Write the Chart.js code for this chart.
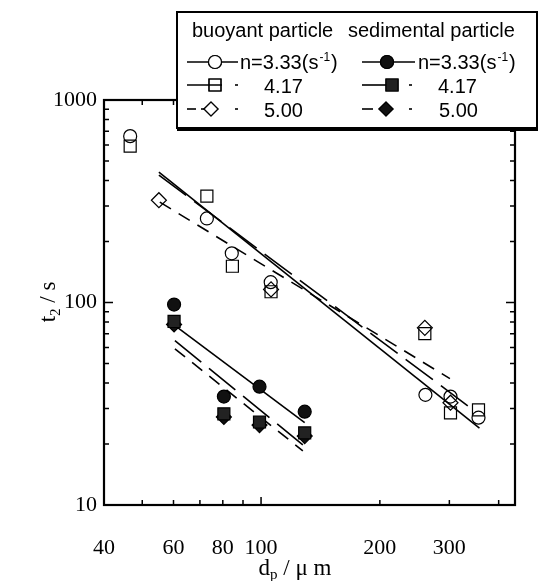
<!DOCTYPE html>
<html>
<head>
<meta charset="utf-8">
<script src="https://cdn.jsdelivr.net/npm/chart.js@4.4.0/dist/chart.umd.min.js"></script>
<style>
html, body { margin: 0; padding: 0; background: #fff; }
</style>
</head>
<body>
<canvas id="t2Chart" width="539" height="581"></canvas>
<script>
// buoyant particle (open symbols), d_p in um, t2 in s
const dBuoy333 = [46.6, 72.9, 84.3, 105.8, 260.9, 302, 355.6];
const tBuoy333 = [663, 260, 175, 126, 35.0, 34.3, 27.0];
const dBuoy417 = [46.6, 72.9, 84.6, 106, 260, 302, 355.6];
const tBuoy417 = [592, 335, 151, 113, 70.2, 28.5, 29.5];
const dBuoy500 = [55.1, 106, 260, 302];
const tBuoy500 = [320, 116, 75, 32];

// sedimental particle (filled symbols)
const dSed333 = [60.2, 80.5, 99.1, 129];
const tSed333 = [97.7, 34.3, 38.4, 28.9];
const dSed417 = [60.2, 80.5, 99.1, 129];
const tSed417 = [80.6, 28.2, 25.7, 22.7];
const dSed500 = [60.2, 80.5, 99.1, 129];
const tSed500 = [77.9, 27.2, 24.8, 21.9];

// fitted lines (end points)
const fitBuoy333x = [55.1, 357.6], fitBuoy333y = [440, 24.0];
const fitBuoy417x = [55.1, 334], fitBuoy417y = [426, 30.9];
const fitBuoy500x = [55.4, 301], fitBuoy500y = [313, 42.1];
const fitSed333x = [61.0, 129], fitSed333y = [76, 25.5];
const fitSed417x = [60.5, 127.6], fitSed417y = [64.9, 19.8];
const fitSed500x = [60.5, 127.6], fitSed500y = [59.1, 18.5];

// axis ticks
const xTicks = [40, 50, 60, 70, 80, 90, 100, 200, 300, 400];
const xLabels = [40, 60, 80, 100, 200, 300];
const yTicks = [10, 20, 30, 40, 50, 60, 70, 80, 90, 100, 200, 300, 400, 500, 600, 700, 800, 900, 1000];
const yLabels = [10, 100, 1000];

const toXY = (xs, ys) => xs.map((v, i) => ({ x: v, y: ys[i] }));

function pts(xs, ys, style, r, fill) {
    return {
        data: toXY(xs, ys),
        showLine: false,
        pointStyle: style,
        pointRadius: r,
        pointBackgroundColor: fill,
        pointBorderColor: '#000',
        pointBorderWidth: 1.2
    };
}
function fit(xs, ys, dash) {
    return {
        data: toXY(xs, ys),
        showLine: true,
        pointRadius: 0,
        borderColor: '#000',
        borderWidth: 1.6,
        borderDash: dash
    };
}

const dashLong = [34, 10];
const dashShort = [13, 9];

// frame with inward ticks on all four sides
const framePlugin = {
    id: 'frame',
    afterDatasetsDraw(chart) {
        const { ctx, chartArea: a, scales: { x, y } } = chart;
        ctx.save();
        ctx.strokeStyle = '#000';
        ctx.lineWidth = 1.5;
        ctx.beginPath();
        xTicks.forEach(v => {
            const px = x.getPixelForValue(v);
            const len = (v === 100) ? 8 : 5;
            ctx.moveTo(px, a.bottom); ctx.lineTo(px, a.bottom - len);
            ctx.moveTo(px, a.top); ctx.lineTo(px, a.top + len);
        });
        yTicks.forEach(v => {
            const py = y.getPixelForValue(v);
            const len = yLabels.includes(v) ? 9 : 5;
            ctx.moveTo(a.left, py); ctx.lineTo(a.left + len, py);
            ctx.moveTo(a.right, py); ctx.lineTo(a.right - len, py);
        });
        ctx.stroke();
        ctx.lineWidth = 2.2;
        ctx.strokeRect(a.left, a.top, a.right - a.left, a.bottom - a.top);

        // axis titles
        ctx.fillStyle = '#000';
        ctx.textBaseline = 'alphabetic';
        const big = '23px "Liberation Serif"', small = '15px "Liberation Serif"';
        // x title: d_p / um
        ctx.font = big; const wd = ctx.measureText('d').width;
        ctx.font = small; const wp = ctx.measureText('p').width;
        ctx.font = big; const wr = ctx.measureText(' / \u03bc m').width;
        let sx = 295 - (wd + wp + wr) / 2;
        const by = 575;
        ctx.font = big; ctx.fillText('d', sx, by); sx += wd;
        ctx.font = small; ctx.fillText('p', sx, by + 4); sx += wp;
        ctx.font = big; ctx.fillText(' / \u03bc m', sx, by);
        // y title: t_2 / s
        ctx.save();
        ctx.translate(55, 302);
        ctx.rotate(-Math.PI / 2);
        ctx.font = big; const wt = ctx.measureText('t').width;
        ctx.font = small; const w2 = ctx.measureText('2').width;
        ctx.font = big; const ws = ctx.measureText(' / s').width;
        let tx = -(wt + w2 + ws) / 2;
        ctx.font = big; ctx.fillText('t', tx, 0); tx += wt;
        ctx.font = small; ctx.fillText('2', tx, 5); tx += w2;
        ctx.font = big; ctx.fillText(' / s', tx, 0);
        ctx.restore();
        ctx.restore();
    }
};

function marker(ctx, style, x, y, r, fill) {
    ctx.save();
    ctx.fillStyle = fill;
    ctx.strokeStyle = '#000';
    ctx.lineWidth = 1.2;
    Chart.helpers.drawPoint(ctx, { pointStyle: style, radius: r, borderWidth: 1.2 }, x, y);
    ctx.fill();
    ctx.stroke();
    ctx.restore();
}
function seg(ctx, x1, x2, y) {
    ctx.beginPath(); ctx.moveTo(x1, y); ctx.lineTo(x2, y); ctx.stroke();
}

// boxed legend, top right
const legendPlugin = {
    id: 'boxLegend',
    afterDraw(chart) {
        const ctx = chart.ctx;
        ctx.save();
        ctx.fillStyle = '#fff';
        ctx.fillRect(177, 12, 360, 116);
        ctx.fillStyle = '#000';
        ctx.fillRect(177, 127, 361, 4);
        ctx.strokeStyle = '#000';
        ctx.lineWidth = 2;
        ctx.strokeRect(177, 12, 360, 116);

        const lf = '20px "Liberation Sans"';
        ctx.font = lf;
        ctx.textBaseline = 'alphabetic';
        ctx.fillText('buoyant particle', 192, 37);
        ctx.fillText('sedimental particle', 348, 37);

        const nLabel = (x, y) => {
            ctx.font = lf;
            ctx.fillText('n=3.33(s', x, y);
            let w = ctx.measureText('n=3.33(s').width;
            ctx.font = '12px "Liberation Sans"';
            ctx.fillText('-1', x + w + 1, y - 8);
            w += ctx.measureText('-1').width + 2;
            ctx.font = lf;
            ctx.fillText(')', x + w, y);
        };
        ctx.lineWidth = 1.6;
        // row n=3.33
        seg(ctx, 187, 238, 62); marker(ctx, 'circle', 215, 62, 6.5, '#fff');
        nLabel(240, 69);
        seg(ctx, 362, 415, 62); marker(ctx, 'circle', 387, 62, 6.5, '#111');
        nLabel(418, 69);
        // row 4.17
        seg(ctx, 187, 222, 85); marker(ctx, 'rect', 215, 85, 8.5, 'rgba(0,0,0,0)');
        seg(ctx, 235, 238, 85);
        seg(ctx, 362, 390, 85); marker(ctx, 'rect', 392, 85, 8.5, '#222');
        seg(ctx, 409, 412, 85);
        ctx.font = lf;
        ctx.fillText('4.17', 264, 93);
        ctx.fillText('4.17', 438, 93);
        // row 5.00
        seg(ctx, 187, 196, 109); seg(ctx, 201, 206, 109);
        marker(ctx, 'rectRot', 211, 109, 7, '#fff');
        seg(ctx, 235, 238, 109);
        seg(ctx, 362, 373, 109); marker(ctx, 'rectRot', 386, 109, 7, '#111');
        seg(ctx, 409, 412, 109);
        ctx.font = lf;
        ctx.fillText('5.00', 264, 117);
        ctx.fillText('5.00', 439, 117);
        ctx.restore();
    }
};

const ctx = document.getElementById('t2Chart').getContext('2d');
const chart = new Chart(ctx, {
    type: 'scatter',
    data: {
        datasets: [
            pts(dBuoy333, tBuoy333, 'circle', 6.5, 'rgba(0,0,0,0)'),
            pts(dBuoy417, tBuoy417, 'rect', 8.5, 'rgba(0,0,0,0)'),
            pts(dBuoy500, tBuoy500, 'rectRot', 7.5, 'rgba(0,0,0,0)'),
            pts(dSed333, tSed333, 'circle', 6.5, '#111'),
            pts(dSed417, tSed417, 'rect', 8.5, '#222'),
            pts(dSed500, tSed500, 'rectRot', 7.5, '#111'),
            fit(fitBuoy333x, fitBuoy333y, []),
            fit(fitBuoy417x, fitBuoy417y, dashLong),
            fit(fitBuoy500x, fitBuoy500y, dashShort),
            fit(fitSed333x, fitSed333y, []),
            fit(fitSed417x, fitSed417y, dashLong),
            fit(fitSed500x, fitSed500y, dashShort)
        ]
    },
    options: {
        responsive: false,
        animation: false,
        devicePixelRatio: 1,
        layout: { padding: { top: 100, right: 24, left: 0, bottom: 0 } },
        plugins: {
            legend: { display: false },
            tooltip: { enabled: false }
        },
        scales: {
            x: {
                type: 'logarithmic',
                min: 40,
                max: 440,
                afterFit: s => { s.height = 76; },
                afterBuildTicks: s => { s.ticks = xTicks.map(v => ({ value: v })); },
                grid: { display: false, drawTicks: false },
                border: { display: false },
                ticks: {
                    autoSkip: false,
                    maxRotation: 0,
                    padding: 30,
                    color: '#000',
                    font: { family: 'Liberation Serif', size: 22 },
                    callback: v => xLabels.includes(v) ? String(v) : ''
                }
            },
            y: {
                type: 'logarithmic',
                min: 10,
                max: 1000,
                afterFit: s => { s.width = 104; },
                afterBuildTicks: s => { s.ticks = yTicks.map(v => ({ value: v })); },
                grid: { display: false, drawTicks: false },
                border: { display: false },
                ticks: {
                    autoSkip: false,
                    padding: 7,
                    color: '#000',
                    font: { family: 'Liberation Serif', size: 22 },
                    callback: v => yLabels.includes(v) ? String(v) : ''
                }
            }
        }
    },
    plugins: [framePlugin, legendPlugin]
});
</script>
</body>
</html>
